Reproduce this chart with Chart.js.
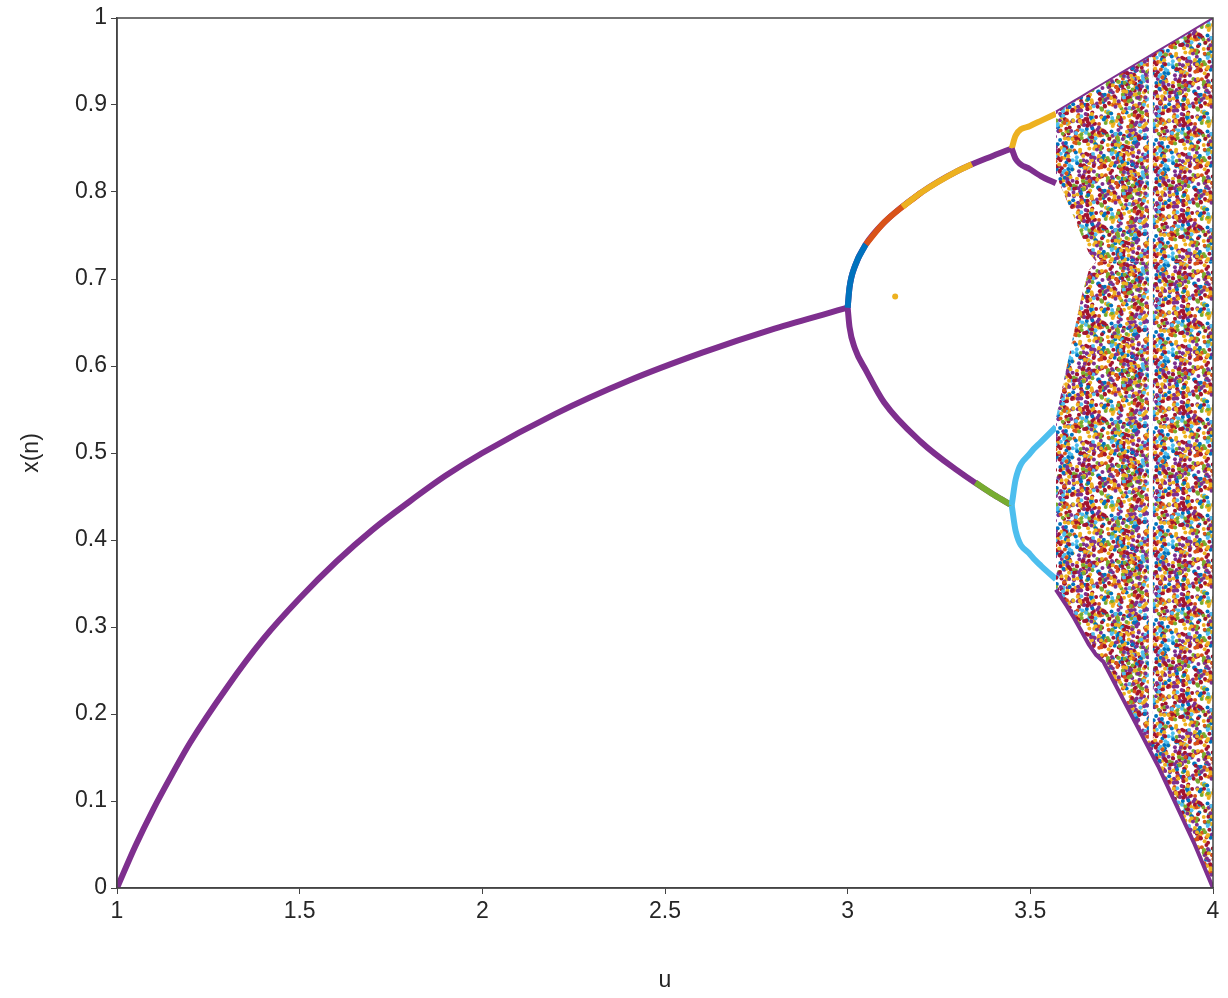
<!DOCTYPE html>
<html><head><meta charset="utf-8">
<script src="https://cdn.jsdelivr.net/npm/chart.js@4"></script>
<style>html,body{margin:0;padding:0;background:#fff}#w{width:1228px;height:998px}</style>
</head><body><div id="w"><canvas id="c"></canvas></div>
<script>
// Values
const mainU = [1,1.05,1.1,1.15,1.2,1.3,1.4,1.5,1.6,1.7,1.8,1.9,2,2.2,2.4,2.6,2.8,3];
const mainX = [0,0.048,0.091,0.13,0.167,0.23,0.286,0.333,0.375,0.412,0.444,0.474,0.5,0.545,0.583,0.615,0.643,0.667];
const up2U = [3,3.005,3.02,3.05,3.1,3.2,3.3,3.4,3.449];
const up2X = [0.667,0.69,0.715,0.74,0.765,0.799,0.824,0.842,0.85];
const lo2U = [3,3.005,3.02,3.05,3.1,3.2,3.3,3.4,3.449];
const lo2X = [0.667,0.645,0.62,0.595,0.558,0.513,0.48,0.452,0.44];
const p4U = [3.449,3.46,3.5,3.53,3.57];
const p4a = [0.85,0.865,0.876,0.882,0.89];
const p4b = [0.85,0.838,0.826,0.818,0.81];
const p4c = [0.44,0.47,0.5,0.513,0.53];
const p4d = [0.44,0.41,0.383,0.37,0.355];
const chaosU = [3.57,3.6,3.62,3.64,3.66,3.68,3.7,3.75,3.8,3.85,3.9,3.95,4];
const chaosTop = [0.8925,0.9,0.905,0.91,0.915,0.92,0.925,0.9375,0.95,0.9625,0.975,0.9875,1];
const chaosInUp = [0.82,0.79,0.77,0.75,0.73,0.72,0.72,0.72,0.72,0.72,0.72,0.72,0.72];
const chaosInLo = [0.54,0.6,0.64,0.68,0.71,0.72,0.72,0.72,0.72,0.72,0.72,0.72,0.72];
const chaosBot = [0.343,0.324,0.31,0.295,0.28,0.268,0.26,0.22,0.18,0.14,0.095,0.05,0];
const gapU = [3.83,3.83];
const gapX = [0.17,0.955];
const xTicks = [1,1.5,2,2.5,3,3.5,4];

const pal=['#7E2F8E','#A2142F','#EDB120','#0072BD','#4DBEEE','#77AC30','#D95319','#7E2F8E','#A2142F','#EDB120'];
const S=96;const pc=document.createElement('canvas');pc.width=S;pc.height=S;
const g=pc.getContext('2d');g.fillStyle='#fff';g.fillRect(0,0,S,S);
let seed=12345;const lcg=()=>{seed=(seed*1103515245+12345)%2147483648;return seed/2147483648;};
for(let i=0;i<900;i++){const px=lcg()*S,py=lcg()*S;g.fillStyle=pal[Math.floor(lcg()*pal.length)];
 for(const ox of [-S,0,S])for(const oy of [-S,0,S]){g.beginPath();g.arc(px+ox,py+oy,2,0,7);g.fill();}}
const pat=g.createPattern(pc,'repeat');

const pts=(u,x)=>u.map((v,i)=>({x:v,y:x[i]}));
const line=(d,c,w=6)=>({data:d,borderColor:c,borderWidth:w,pointRadius:0,cubicInterpolationMode:'monotone',fill:false,showLine:true});
let ds=[
 line(pts(mainU,mainX),'#7E2F8E'),
 line(pts(up2U,up2X),'#7E2F8E'),
 line(pts(lo2U,lo2X),'#7E2F8E'),
 line(pts([3,3.005,3.02,3.05],[0.667,0.69,0.715,0.74]),'#0072BD'),
 line(pts([3.05,3.1,3.2],[0.74,0.765,0.799]),'#D95319'),
 line(pts([3.15,3.2,3.3,3.34],[0.783,0.799,0.824,0.832]),'#EDB120'),
 line(pts([3.35,3.4,3.449],[0.466,0.452,0.44]),'#77AC30'),
 line(pts(p4U,p4a),'#EDB120'),
 line(pts(p4U,p4b),'#7E2F8E'),
 line(pts(p4U,p4c),'#4DBEEE'),
 line(pts(p4U,p4d),'#4DBEEE'),
 {data:pts(chaosU,chaosTop),borderColor:'#7E2F8E',borderWidth:2,pointRadius:0,fill:'+1',backgroundColor:pat},
 {data:pts(chaosU,chaosInUp),borderColor:'rgba(0,0,0,0)',borderWidth:0,pointRadius:0,fill:false},
 {data:pts(chaosU,chaosInLo),borderColor:'rgba(0,0,0,0)',borderWidth:0,pointRadius:0,fill:'+1',backgroundColor:pat},
 {data:pts(chaosU,chaosBot),borderColor:'#7E2F8E',borderWidth:4,pointRadius:0,fill:false},
 line(pts(gapU,gapX),'#ffffff',4),
 {data:[{x:3.13,y:0.68}],pointRadius:3,pointBackgroundColor:'#EDB120',pointBorderWidth:0,showLine:false}
];
ds.forEach((d,i)=>{d.type='scatter';if(d.showLine===undefined)d.showLine=true;d.order=ds.length-i;});
const font={family:'Liberation Sans, Arial',size:23};
new Chart(document.getElementById('c'),{type:'scatter',data:{datasets:ds},
options:{responsive:true,maintainAspectRatio:false,animation:false,
 layout:{padding:{top:18,right:15,left:0,bottom:0}},
 plugins:{legend:{display:false},tooltip:{enabled:false}},
 scales:{
  x:{type:'linear',min:1,max:4,afterBuildTicks:s=>{s.ticks=xTicks.map(v=>({value:v}));},
   afterFit:s=>{s.height=110;},
   grid:{drawOnChartArea:false,tickLength:6,color:'#444'},border:{color:'#444',width:1.5},
   ticks:{color:'#262626',font,padding:4,callback:v=>String(v)},
   title:{display:true,text:'u',color:'#262626',font,padding:{top:2}}},
  y:{min:0,max:1,afterFit:s=>{s.width=117;},
   grid:{drawOnChartArea:false,tickLength:6,color:'#444'},border:{color:'#444',width:1.5},
   ticks:{stepSize:0.1,color:'#262626',font,padding:4,callback:v=>String(Math.round(v*10)/10)},
   title:{display:true,text:'x(n)',color:'#262626',font,padding:{top:18,bottom:4}}}
 }},
 plugins:[{id:'box',afterDraw(c){const a=c.chartArea,x=c.ctx;x.save();x.strokeStyle='#444';x.lineWidth=1.5;x.strokeRect(a.left,a.top,a.right-a.left,a.bottom-a.top);x.restore();}}]
});
</script></body></html>
